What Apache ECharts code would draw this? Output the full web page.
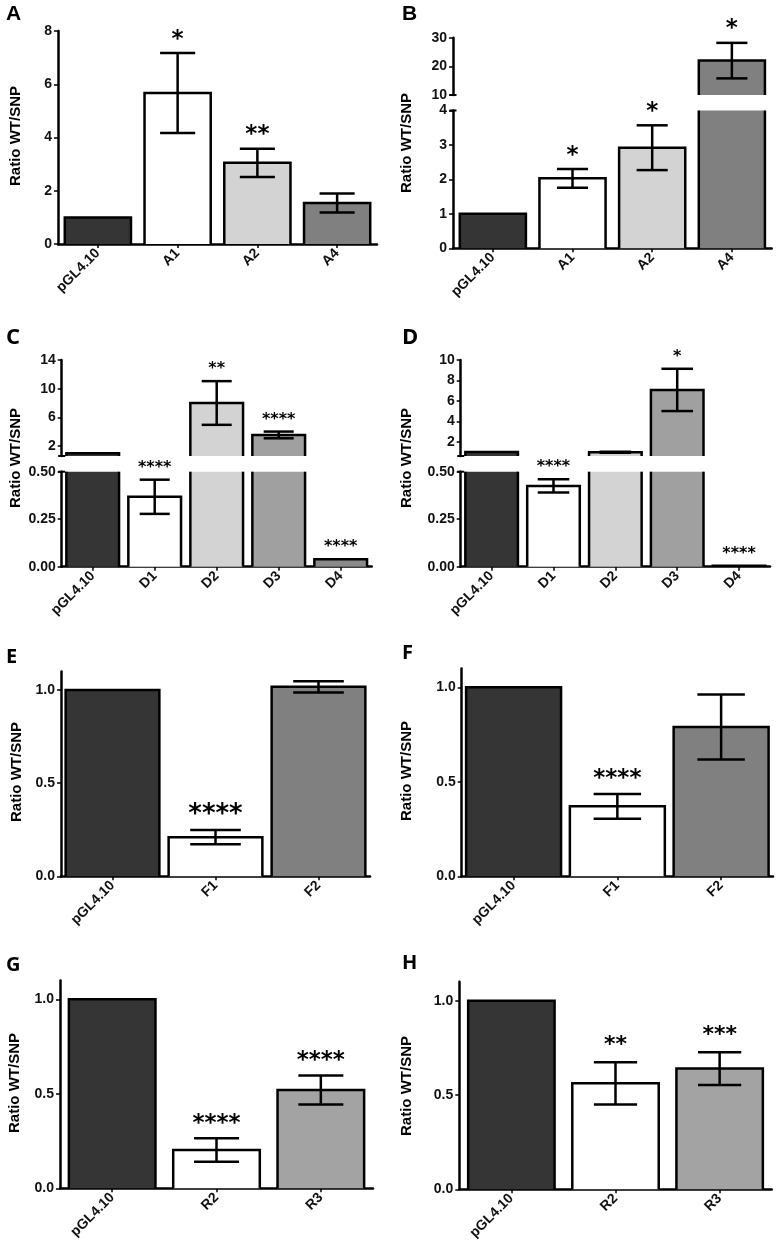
<!DOCTYPE html>
<html>
<head>
<meta charset="utf-8">
<style>html,body{margin:0;padding:0;background:#fff}#c{width:780px;height:1248px}</style>
<script src="https://cdn.jsdelivr.net/npm/echarts@6.0.0/dist/echarts.min.js"></script>
</head>
<body>
<div id="c"></div>
<script>
// ---------- DATA ----------
const CAT_A = ['pGL4.10', 'A1', 'A2', 'A4'];
const MEAN_A = [1.00, 5.67, 3.05, 1.54];
const SEM_A = [0, 1.50, 0.53, 0.36];
const SIG_A = ['', '*', '**', ''];

const CAT_B = ['pGL4.10', 'A1', 'A2', 'A4'];
const MEAN_B = [1.00, 2.03, 2.92, 22.0];
const SEM_B = [0, 0.27, 0.65, 6.2];
const SIG_B = ['', '*', '*', '*'];

const CAT_C = ['pGL4.10', 'D1', 'D2', 'D3', 'D4'];
const MEAN_C = [1.00, 0.368, 8.0, 3.54, 0.039];
const SEM_C = [0, 0.090, 3.05, 0.47, 0];
const SIG_C = ['', '****', '**', '****', '****'];

const CAT_D = ['pGL4.10', 'D1', 'D2', 'D3', 'D4'];
const MEAN_D = [1.00, 0.425, 0.97, 7.07, 0.005];
const SEM_D = [0, 0.035, 0.05, 2.07, 0];
const SIG_D = ['', '****', '', '*', '****'];

const CAT_E = ['pGL4.10', 'F1', 'F2'];
const MEAN_E = [1.00, 0.210, 1.017];
const SEM_E = [0, 0.038, 0.030];
const SIG_E = ['', '****', ''];

const CAT_F = ['pGL4.10', 'F1', 'F2'];
const MEAN_F = [1.00, 0.370, 0.790];
const SEM_F = [0, 0.065, 0.172];
const SIG_F = ['', '****', ''];

const CAT_G = ['pGL4.10', 'R2', 'R3'];
const MEAN_G = [1.00, 0.203, 0.520];
const SEM_G = [0, 0.062, 0.077];
const SIG_G = ['', '****', '****'];

const CAT_H = ['pGL4.10', 'R2', 'R3'];
const MEAN_H = [1.00, 0.562, 0.640];
const SEM_H = [0, 0.112, 0.087];
const SIG_H = ['', '**', '***'];

// tick labels
const TICKS_A = [0, 2, 4, 6, 8];
const TICKS_B_HIGH = [10, 20, 30];
const TICKS_B_LOW = [0, 1, 2, 3, 4];
const TICKS_C_HIGH = [2, 6, 10, 14];
const TICKS_D_HIGH = [2, 4, 6, 8, 10];
const TICKS_CD_LOW = [0, 0.25, 0.5];
const TICKS_EH = [0, 0.5, 1.0];

const Y_NAME = 'Ratio WT/SNP';

// ---------- LAYOUT / STYLE ----------
const GREYS4 = ['#353535', '#ffffff', '#d3d3d3', '#808080'];
const GREYS5 = ['#353535', '#ffffff', '#d3d3d3', '#a0a0a0', '#8a8a8a'];
const GREYS_EF = ['#353535', '#ffffff', '#808080'];
const GREYS_GH = ['#353535', '#ffffff', '#a3a3a3'];

const PANELS = [
  { letter: 'A', lx: 6, ly: 4, lfont: 'bold 21px "Liberation Sans"', nx: 16, ny: 136,
    cats: CAT_A, mean: MEAN_A, sem: SEM_A, sig: SIG_A, colors: GREYS4,
    barRatio: 0.83, capRatio: 0.53, starSize: 23, starGap: 2,
    segs: [{ min: 0, max: 8, ticks: TICKS_A, dec: 0, g: [58, 31, 319, 213] }] },
  { letter: 'B', lx: 402, ly: 4, lfont: 'bold 21px "Liberation Sans"', nx: 407, ny: 143,
    cats: CAT_B, mean: MEAN_B, sem: SEM_B, sig: SIG_B, colors: GREYS4,
    barRatio: 0.83, capRatio: 0.47, starSize: 23, starGap: 2,
    segs: [{ min: 10, max: 30, ticks: TICKS_B_HIGH, dec: 0, g: [453, 37.7, 318.7, 57.3] },
           { min: 0, max: 4, ticks: TICKS_B_LOW, dec: 0, g: [453, 110.5, 318.7, 137.8] }] },
  { letter: 'C', lx: 6, ly: 327, lfont: 'bold 22px "Open Sans"', nx: 16, ny: 458,
    cats: CAT_C, mean: MEAN_C, sem: SEM_C, sig: SIG_C, colors: GREYS5,
    barRatio: 0.85, capRatio: 0.57, starSize: 16, starGap: 4,
    segs: [{ min: 0.6, max: 14, ticks: TICKS_C_HIGH, dec: 0, g: [61.7, 360, 310, 96] },
           { min: 0, max: 0.5, ticks: TICKS_CD_LOW, dec: 2, g: [61.7, 471.7, 310, 95] }] },
  { letter: 'D', lx: 402, ly: 327, lfont: 'bold 22px "Open Sans"', nx: 407, ny: 458,
    cats: CAT_D, mean: MEAN_D, sem: SEM_D, sig: SIG_D, colors: GREYS5,
    barRatio: 0.85, capRatio: 0.6, starSize: 16, starGap: 4,
    segs: [{ min: 0.6, max: 10, ticks: TICKS_D_HIGH, dec: 0, g: [460.7, 360, 309.3, 96] },
           { min: 0, max: 0.5, ticks: TICKS_CD_LOW, dec: 2, g: [460.7, 471.7, 309.3, 95] }] },
  { letter: 'E', lx: 6, ly: 647, lfont: 'bold 20px "Open Sans"', nx: 17, ny: 772,
    cats: CAT_E, mean: MEAN_E, sem: SEM_E, sig: SIG_E, colors: GREYS_EF,
    barRatio: 0.91, capRatio: 0.54, starSize: 26, starGap: 2,
    segs: [{ min: 0, max: 1.1, ticks: TICKS_EH, dec: 1, g: [61, 671.4, 309, 204.9] }] },
  { letter: 'F', lx: 402, ly: 643, lfont: 'bold 20px "Open Sans"', nx: 407, ny: 771,
    cats: CAT_F, mean: MEAN_F, sem: SEM_F, sig: SIG_F, colors: GREYS_EF,
    barRatio: 0.915, capRatio: 0.5, starSize: 23, starGap: 4,
    segs: [{ min: 0, max: 1.1, ticks: TICKS_EH, dec: 1, g: [461.7, 668.4, 311.3, 207.9] }] },
  { letter: 'G', lx: 6, ly: 955, lfont: 'bold 20px "Open Sans"', nx: 15, ny: 1083,
    cats: CAT_G, mean: MEAN_G, sem: SEM_G, sig: SIG_G, colors: GREYS_GH,
    barRatio: 0.83, capRatio: 0.52, starSize: 23, starGap: 3,
    segs: [{ min: 0, max: 1.1, ticks: TICKS_EH, dec: 1, g: [60, 980.4, 313, 207.9] }] },
  { letter: 'H', lx: 402, ly: 953, lfont: 'bold 20px "Open Sans"', nx: 407, ny: 1086,
    cats: CAT_H, mean: MEAN_H, sem: SEM_H, sig: SIG_H, colors: GREYS_GH,
    barRatio: 0.83, capRatio: 0.5, starSize: 22, starGap: 6,
    segs: [{ min: 0, max: 1.1, ticks: TICKS_EH, dec: 1, g: [459.3, 981.8, 312.4, 207.5] }] }
];

const AXIS_COLOR = '#000';
const LBL_FONT = 'Liberation Sans';

function makeRender(p, s) {
  return function (params, api) {
    const i = api.value(0), v = api.value(1), e = api.value(2);
    const lo = s.min, hi = s.max;
    const base = lo > 0 ? lo : 0;
    const band = api.size([1, 0])[0];
    const bw = band * p.barRatio;
    const cw = bw * p.capRatio;
    const pB = api.coord([i, base]);
    const cx = pB[0], yB = pB[1];
    const x0 = cx - bw / 2, x1 = cx + bw / 2;
    const kids = [];
    const st = { stroke: '#000', lineWidth: 2.5, fill: null, lineJoin: 'miter', lineCap: 'butt' };
    if (v > base) {
      const yT = api.coord([i, Math.min(v, hi)])[1];
      kids.push({ type: 'rect', shape: { x: x0, y: yT, width: bw, height: yB - yT }, style: { fill: p.colors[i] } });
      if (v <= hi) {
        kids.push({ type: 'polyline', shape: { points: [[x0, yB], [x0, yT], [x1, yT], [x1, yB]] }, style: st });
      } else {
        kids.push({ type: 'line', shape: { x1: x0, y1: yB, x2: x0, y2: yT }, style: st });
        kids.push({ type: 'line', shape: { x1: x1, y1: yB, x2: x1, y2: yT }, style: st });
      }
    }
    if (e > 0) {
      const eLo = v - e, eHi = v + e;
      const a = Math.max(eLo, lo), b = Math.min(eHi, hi);
      if (a < b) {
        const ya = api.coord([i, a])[1], yb = api.coord([i, b])[1];
        kids.push({ type: 'line', shape: { x1: cx, y1: ya, x2: cx, y2: yb }, style: st });
      }
      [eLo, eHi].forEach(function (val) {
        if (val >= lo && val <= hi) {
          const y = api.coord([i, val])[1];
          kids.push({ type: 'line', shape: { x1: cx - cw / 2, y1: y, x2: cx + cw / 2, y2: y }, style: st });
        }
      });
    }
    const sig = p.sig[i];
    const anchor = e > 0 ? v + e : v;
    if (sig && anchor > lo && anchor <= hi) {
      const ya = api.coord([i, anchor])[1];
      kids.push({ type: 'text', x: cx, y: ya - p.starGap,
        style: { text: sig, fill: '#000', font: 'bold ' + p.starSize + 'px "DejaVu Sans"',
                 align: 'center', verticalAlign: 'bottom', textAlign: 'center', textVerticalAlign: 'bottom' } });
    }
    return { type: 'group', children: kids };
  };
}

const option = { animation: false, backgroundColor: '#fff', grid: [], xAxis: [], yAxis: [], series: [], graphic: [] };

PANELS.forEach(function (p) {
  const n = p.segs.length;
  p.segs.forEach(function (s, si) {
    const gi = option.grid.length;
    const isBottom = si === n - 1;
    const broken = n > 1;
    option.grid.push({ left: s.g[0], top: s.g[1], width: s.g[2], height: s.g[3], containLabel: false, outerBoundsMode: 'none' });
    option.xAxis.push({
      type: 'category', gridIndex: gi, data: p.cats, boundaryGap: true, show: isBottom,
      axisLine: { show: true, lineStyle: { color: AXIS_COLOR, width: 2.5 } },
      axisTick: { show: true, alignWithLabel: true, length: 4, lineStyle: { color: AXIS_COLOR, width: 1.5 } },
      axisLabel: { show: true, interval: 0, rotate: 45, margin: 7, color: '#111', fontFamily: LBL_FONT, fontWeight: 'bold', fontSize: 14 },
      splitLine: { show: false }
    });
    let sym = 'none';
    if (broken) sym = isBottom ? ['none', 'rect'] : ['rect', 'none'];
    option.yAxis.push({
      type: 'value', gridIndex: gi, min: s.min, max: s.max,
      axisLine: { show: true, lineStyle: { color: AXIS_COLOR, width: 2.5 }, symbol: sym, symbolSize: [7, 2] },
      axisTick: { show: true, length: 4, customValues: s.ticks, lineStyle: { color: AXIS_COLOR, width: 1.5 } },
      axisLabel: { show: true, customValues: s.ticks, margin: 6, color: '#111', fontFamily: LBL_FONT, fontWeight: 'bold', fontSize: 14,
                   formatter: (function (d) { return function (val) { return Number(val).toFixed(d); }; })(s.dec) },
      splitLine: { show: false }
    });
    option.series.push({
      type: 'custom', xAxisIndex: gi, yAxisIndex: gi, clip: false, silent: true,
      encode: { x: 0, y: 1 },
      data: p.cats.map(function (c, i) { return [i, p.mean[i], p.sem[i]]; }),
      renderItem: makeRender(p, s)
    });
  });
  option.graphic.push({ type: 'text', x: p.lx, y: p.ly, silent: true,
    style: { text: p.letter, font: p.lfont, fill: '#000', align: 'left', verticalAlign: 'top' } });
  option.graphic.push({ type: 'text', x: p.nx, y: p.ny, rotation: Math.PI / 2, silent: true,
    style: { text: Y_NAME, font: 'bold 15px "Liberation Sans"', fill: '#000', align: 'center', verticalAlign: 'middle' } });
});

const chart = echarts.init(document.getElementById('c'), null, { renderer: 'canvas' });
chart.setOption(option);
</script>
</body>
</html>
